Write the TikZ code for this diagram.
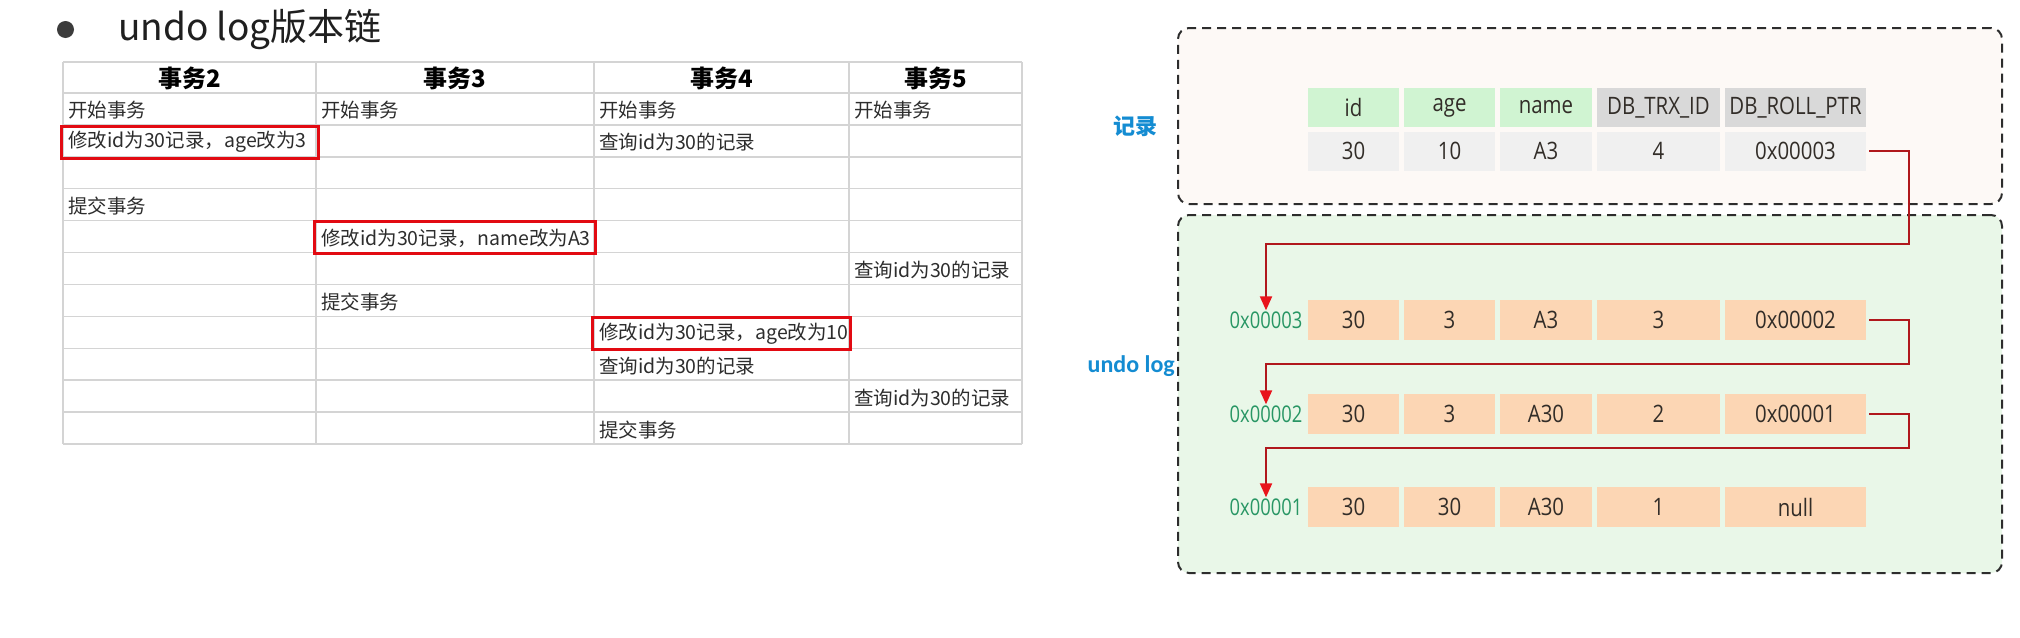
\documentclass[tikz,border=0pt]{standalone}
\usepackage{fontspec}
\setmainfont{Noto Sans CJK SC}
\newfontfamily\cond[FakeStretch=0.85]{Open Sans}
\newfontfamily\condb[FakeStretch=0.8]{Open Sans}
\newfontfamily\lab{Carlito}
\usetikzlibrary{arrows.meta}
\definecolor{gridc}{RGB}{212,212,212}
\definecolor{redc}{RGB}{226,10,18}
\definecolor{txt}{RGB}{45,45,45}
\definecolor{hgreen}{RGB}{208,244,210}
\definecolor{hgray}{RGB}{217,217,217}
\definecolor{dgray}{RGB}{240,240,240}
\definecolor{peach}{RGB}{252,214,180}
\definecolor{topfill}{RGB}{253,249,246}
\definecolor{botfill}{RGB}{233,247,232}
\definecolor{addrc}{RGB}{40,150,100}
\definecolor{lblue}{RGB}{20,140,210}
\definecolor{linec}{RGB}{176,24,28}
\definecolor{tipc}{RGB}{232,20,28}
\definecolor{celltxt}{RGB}{50,45,40}
\definecolor{bulc}{RGB}{60,60,60}
\definecolor{dashc}{RGB}{45,45,45}
\begin{document}
\begin{tikzpicture}[x=1pt,y=-1pt,
  gridline/.style={draw=gridc,line width=1.4pt},
  cellt/.style={anchor=west,inner sep=0pt,text=txt,font=\fontsize{19.5}{24}\selectfont},
  headt/.style={inner sep=0pt,text=black,font=\fontsize{24}{28}\selectfont\bfseries},
  redbox/.style={draw=redc,line width=3pt,inner sep=0pt},
  tcell/.style={inner sep=0pt,minimum height=39pt,text=celltxt,font=\cond\fontsize{24}{28}\selectfont},
  hg/.style={tcell,fill=hgreen},
  hy/.style={tcell,fill=hgray},
  dc/.style={tcell,fill=dgray},
  uc/.style={tcell,fill=peach,minimum height=40pt},
  wid/.style={minimum width=91pt},
  wage/.style={minimum width=91pt},
  wname/.style={minimum width=92pt},
  wtrx/.style={minimum width=123pt},
  wroll/.style={minimum width=141pt},
  addr/.style={inner sep=1pt,text=addrc,font=\condb\fontsize{23}{27}\selectfont},
  panel/.style={draw=dashc,line width=2pt,dash pattern=on 9pt off 6pt,rounded corners=11pt},
  link/.style={draw=linec,line width=2pt,shorten <=3pt,-{Triangle[width=12pt,length=14pt,color=tipc]}},
  side/.style={text=lblue,inner sep=0pt}
]
\useasboundingbox (0,0) rectangle (2020,637);
\fill[white] (0,0) rectangle (2020,637);

% ---------- title ----------
\fill[bulc] (65.5,29.5) circle (8.5);
\node[anchor=west,inner sep=0pt,text=black!88,font=\fontsize{37}{42}\selectfont] (title) at (118,30) {undo log版本链};

% ---------- left table grid ----------
\foreach \yy in {62,93,124.9,156.8,188.7,220.6,252.5,284.4,316.3,348.2,380.1,412,443.9}
  \draw[gridline] (63,\yy) -- (1022,\yy);
\foreach \xx in {63,316,594,849,1022}
  \draw[gridline] (\xx,62) -- (\xx,443.9);

% headers
\node[headt] (h2) at (189.5,78) {事务2};
\node[headt] (h3) at (455,78) {事务3};
\node[headt] (h4) at (721.5,78) {事务4};
\node[headt] (h5) at (935.5,78) {事务5};

% row centres: 93+31.9*(r-0.5)
\node[cellt] (t1a) at (68,110) {开始事务};
\node[cellt] (t1b) at (321,110) {开始事务};
\node[cellt] (t1c) at (599,110) {开始事务};
\node[cellt] (t1d) at (854,110) {开始事务};
\node[cellt] (t2a) at (68,142) {修改id为30记录，age改为3};
\node[cellt] (t2c) at (599,142) {查询id为30的记录};
\node[cellt] (t4a) at (68,206) {提交事务};
\node[cellt] (t5b) at (321,238) {修改id为30记录，name改为A3};
\node[cellt] (t6d) at (854,270) {查询id为30的记录};
\node[cellt] (t7b) at (321,302) {提交事务};
\node[cellt] (t8c) at (599,334) {修改id为30记录，age改为10};
\node[cellt] (t9c) at (599,366) {查询id为30的记录};
\node[cellt] (t10d) at (854,398) {查询id为30的记录};
\node[cellt] (t11c) at (599,430) {提交事务};

% red highlight boxes
\node[redbox,minimum width=257pt,minimum height=32pt] (m1) at (189.5,142) {};
\node[redbox,minimum width=281pt,minimum height=32pt] (m2) at (455,237.5) {};
\node[redbox,minimum width=258pt,minimum height=32pt] (m3) at (721.5,333.5) {};

% ---------- right panels ----------
\node[panel,fill=topfill,minimum width=824pt,minimum height=176pt,inner sep=0pt] (recbox) at (1590,116) {};
\node[panel,fill=botfill,minimum width=824pt,minimum height=358pt,inner sep=0pt] (undobox) at (1590,394) {};

\node[side,font=\fontsize{22}{26}\selectfont\bfseries] (lrec) at (1135,126) {记录};
\node[side,anchor=east,font=\lab\fontsize{24}{28}\selectfont\bfseries] (lundo) at (1175,366) {undo log};

% record table
\node[hg,wid] (hid) at (1353.5,107.5) {id};
\node[hg,wage] (hage) at (1449.5,107.5) {age};
\node[hg,wname] (hname) at (1546,107.5) {name};
\node[hy,wtrx] (htrx) at (1658.5,107.5) {DB\_TRX\_ID};
\node[hy,wroll] (hroll) at (1795.5,107.5) {DB\_ROLL\_PTR};

\node[dc,wid] (d0id) at (1353.5,151) {30};
\node[dc,wage] (d0age) at (1449.5,151) {10};
\node[dc,wname] (d0name) at (1546,151) {A3};
\node[dc,wtrx] (d0trx) at (1658.5,151) {4};
\node[dc,wroll] (d0roll) at (1795.5,151) {0x00003};

% undo rows
\node[uc,wid] (u1id) at (1353.5,320) {30};
\node[uc,wage] (u1age) at (1449.5,320) {3};
\node[uc,wname] (u1name) at (1546,320) {A3};
\node[uc,wtrx] (u1trx) at (1658.5,320) {3};
\node[uc,wroll] (u1roll) at (1795.5,320) {0x00002};
\node[addr] (a1) at (1266,320) {0x00003};

\node[uc,wid] (u2id) at (1353.5,414) {30};
\node[uc,wage] (u2age) at (1449.5,414) {3};
\node[uc,wname] (u2name) at (1546,414) {A30};
\node[uc,wtrx] (u2trx) at (1658.5,414) {2};
\node[uc,wroll] (u2roll) at (1795.5,414) {0x00001};
\node[addr] (a2) at (1266,414) {0x00002};

\node[uc,wid] (u3id) at (1353.5,507) {30};
\node[uc,wage] (u3age) at (1449.5,507) {30};
\node[uc,wname] (u3name) at (1546,507) {A30};
\node[uc,wtrx] (u3trx) at (1658.5,507) {1};
\node[uc,wroll] (u3roll) at (1795.5,507) {null};
\node[addr] (a3) at (1266,507) {0x00001};

% pointer chain
\coordinate (j1) at (1909,244);
\coordinate (j2) at (1909,364);
\coordinate (j3) at (1909,448);
\draw[link] (d0roll.east) -| (j1) -| (a1.north);
\draw[link] (u1roll.east) -| (j2) -| (a2.north);
\draw[link] (u2roll.east) -| (j3) -| (a3.north);
\end{tikzpicture}
\end{document}
